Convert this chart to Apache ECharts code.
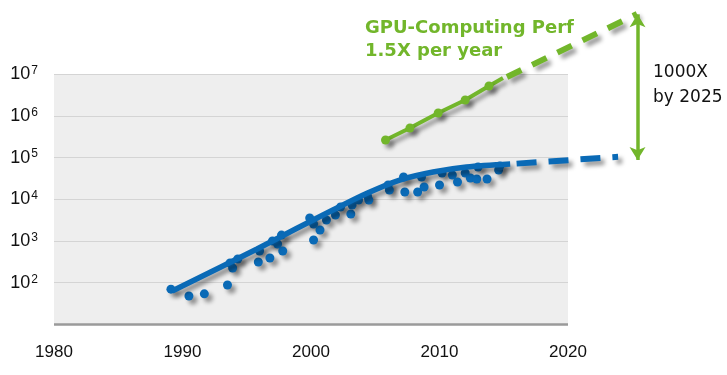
<!DOCTYPE html>
<html><head><meta charset="utf-8">
<script src="https://cdn.jsdelivr.net/npm/echarts@6/dist/echarts.min.js"></script>
<style>html,body{margin:0;padding:0;background:#fff}#c{width:727px;height:375px}</style>
</head><body><div id="c"></div>
<script>
// ---- data ----
const xTicks = [1980, 1990, 2000, 2010, 2020];
const yTicks = [1e2, 1e3, 1e4, 1e5, 1e6, 1e7];

const cpuYears = [1989.1, 1990.5, 1991.7, 1993.5, 1993.7, 1993.9, 1994.3, 1995.9, 1996.0, 1996.8,
  1997.0, 1997.4, 1997.7, 1997.8, 1999.9, 2000.2, 2000.2, 2000.7, 2001.2, 2001.9,
  2002.3, 2003.1, 2003.2, 2003.7, 2004.4, 2004.5, 2006.0, 2006.1, 2007.2, 2007.3,
  2008.3, 2008.6, 2008.8, 2010.0, 2010.2, 2011.0, 2011.4, 2012.0, 2012.4, 2012.9,
  2013.0, 2013.7, 2014.6, 2014.7];
const cpuPerf = [70, 48, 54, 88, 297, 225, 371, 314, 577, 392,
  1000, 847, 1390, 577, 3560, 2560, 1060, 1840, 3190, 4210,
  6550, 4450, 7310, 9640, 12000, 9640, 22100, 16800, 34400, 15000,
  15000, 34400, 19800, 22100, 42900, 38400, 26100, 42900, 32500, 30800,
  59700, 30800, 50600, 63100];

const cpuTrendYears = [1989.2, 1995.8, 1999.1, 2001.7, 2004.4, 2006.9, 2009.5, 2012.1, 2015.5];
const cpuTrendPerf = [63, 644, 2170, 5550, 14200, 29100, 45300, 59700, 70500];

const cpuProjYears = [2016.0, 2023.9];
const cpuProjPerf = [72000, 105000];

const gpuYears = [2005.8, 2007.7, 2009.9, 2012.0, 2013.85, 2014.94];
const gpuPerf = [265000, 515000, 1180000, 2420000, 5240000, 8150000];
const gpuMarked = [true, true, true, true, true, false];

const gpuProjYears = [2015.25, 2025.37];
const gpuProjPerf = [8600000, 280000000];

const gapYear = 2025.41;
const gapRange = [275000000, 88000];

// ---- styles ----
const BLUE = '#0a6ab6';
const GREEN = '#72b62b';
const SH = {shadowColor: 'rgba(0,0,0,0.4)', shadowBlur: 4, shadowOffsetX: 4, shadowOffsetY: 4};
const zip = (a, b) => a.map((v, i) => [v, b[i]]);

const chart = echarts.init(document.getElementById('c'), null, {renderer: 'canvas'});
const gridLines = yTicks.map(v => [{coord: [xTicks[0], v]}, {coord: [xTicks[xTicks.length - 1], v]}]);

chart.setOption({
  animation: false,
  grid: {left: 54, right: 30.5, top: 11.8, bottom: 50.6},
  xAxis: {
    type: 'value', min: 1980, max: 2030, interval: 10,
    axisLine: {show: false}, axisTick: {show: false}, splitLine: {show: false},
    axisLabel: {
      margin: 19, fontSize: 17, color: '#111', fontFamily: 'Liberation Sans',
      formatter: v => (xTicks.indexOf(v) >= 0 ? String(v) : '')
    }
  },
  yAxis: {
    type: 'log', logBase: 10, min: 10, max: Math.pow(10, 8.5), interval: 1,
    axisLine: {show: false}, axisTick: {show: false}, splitLine: {show: false},
    axisLabel: {
      margin: 16, color: '#111', fontFamily: 'Liberation Sans',
      formatter: v => {
        const e = Math.round(Math.log10(v));
        return yTicks.indexOf(Math.pow(10, e)) >= 0 ? '{b|10}{s|' + e + '}' : '';
      },
      rich: {
        b: {fontSize: 18, fontFamily: 'Liberation Sans', color: '#111'},
        s: {fontSize: 12, fontFamily: 'Liberation Sans', color: '#111', verticalAlign: 'bottom', padding: [0, 0, 7, 1]}
      }
    }
  },
  series: [
    {
      type: 'scatter', z: 3, data: zip(cpuYears, cpuPerf), symbolSize: 9,
      itemStyle: Object.assign({color: BLUE, opacity: 1}, SH),
      markArea: {
        silent: true, z: 0,
        itemStyle: {color: '#eeeeee'},
        data: [[{coord: [xTicks[0], 10]}, {coord: [xTicks[xTicks.length - 1], yTicks[yTicks.length - 1]]}]]
      },
      markLine: {
        silent: true, z: 1, symbol: 'none', label: {show: false},
        lineStyle: {color: '#d4d4d4', width: 1, type: 'solid'},
        data: gridLines.concat([[{coord: [xTicks[0], 10], lineStyle: {color: '#9a9a9a', width: 2.5}}, {coord: [xTicks[xTicks.length - 1], 10]}]])
      }
    },
    {
      type: 'line', z: 4, clip: false, showSymbol: false, smooth: 0.3,
      data: zip(cpuTrendYears, cpuTrendPerf),
      lineStyle: Object.assign({color: BLUE, width: 5.5}, SH)
    },
    {
      type: 'line', z: 4, clip: false, showSymbol: false,
      data: zip(cpuProjYears, cpuProjPerf),
      lineStyle: Object.assign({color: BLUE, width: 6, type: [20, 12]}, SH)
    },
    {
      type: 'line', z: 4, clip: false,
      data: gpuYears.map((y, i) => ({value: [y, gpuPerf[i]], symbol: gpuMarked[i] ? 'circle' : 'none'})),
      symbolSize: 9, showSymbol: true,
      itemStyle: Object.assign({color: GREEN, opacity: 1}, SH),
      lineStyle: Object.assign({color: GREEN, width: 4}, SH)
    },
    {
      type: 'line', z: 4, clip: false, showSymbol: false,
      data: zip(gpuProjYears, gpuProjPerf),
      lineStyle: Object.assign({color: GREEN, width: 6, type: [16, 12]}, SH),
      markLine: {
        silent: true, z: 5, symbol: ['arrow', 'arrow'], symbolSize: [12, 13], label: {show: false},
        lineStyle: {color: GREEN, width: 3.5, type: 'solid'},
        data: [[{coord: [gapYear, gapRange[0]]}, {coord: [gapYear, gapRange[1]]}]]
      }
    }
  ],
  graphic: [
    {type: 'text', x: 365, y: 28, style: {text: 'GPU-Computing Perf', fill: GREEN, font: 'bold 18px "DejaVu Sans"', verticalAlign: 'middle'}},
    {type: 'text', x: 365, y: 51, style: {text: '1.5X per year', fill: GREEN, font: 'bold 18px "DejaVu Sans"', verticalAlign: 'middle'}},
    {type: 'text', x: 428, y: 150, style: {text: '1.1X per year', fill: BLUE, font: '18px "DejaVu Sans"', verticalAlign: 'middle'}},
    {type: 'text', x: 325, y: 249, style: {text: '1.5X per year', fill: BLUE, font: '18px "DejaVu Sans"', verticalAlign: 'middle'}},
    {type: 'text', x: 90, y: 310, style: {text: 'Single-threaded Perf', fill: BLUE, font: 'bold 18px "DejaVu Sans"', verticalAlign: 'middle'}},
    {type: 'text', x: 653, y: 73, style: {text: '1000X', fill: '#111', font: '17px "DejaVu Sans"', verticalAlign: 'middle'}},
    {type: 'text', x: 653, y: 98, style: {text: 'by 2025', fill: '#111', font: '17px "DejaVu Sans"', verticalAlign: 'middle'}}
  ]
});
</script>
</body></html>
